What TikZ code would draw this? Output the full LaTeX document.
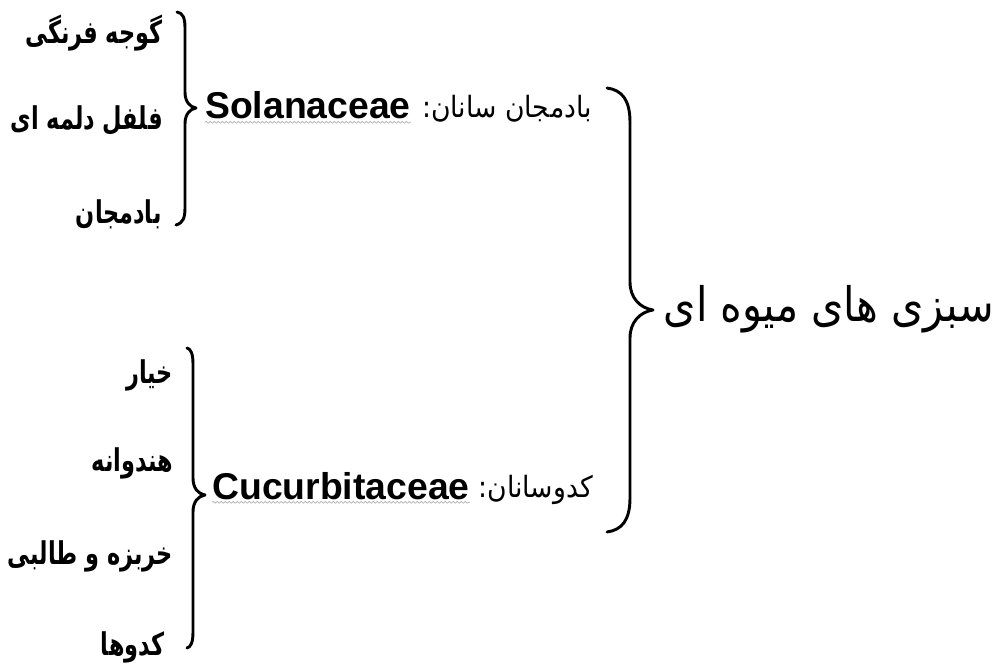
\documentclass[tikz,border=0pt]{standalone}
\usepackage{fontspec}
\setmainfont{Liberation Sans}
\newfontfamily\fa[Script=Arabic]{DejaVu Sans}
\TeXXeTstate=1
\usetikzlibrary{decorations.pathmorphing}
\begin{document}
\begin{tikzpicture}[x=0.75pt,y=-0.75pt,
  bracestyle/.style={line width=2.2pt, line cap=round, line join=round},
  item/.style={anchor=base east, inner sep=0pt, font=\fa\bfseries\fontsize{16.8}{20}\selectfont},
  lat/.style={anchor=base west, inner sep=0pt, font=\bfseries\fontsize{28}{32}\selectfont},
  fam/.style={anchor=base east, inner sep=0pt, font=\fa\fontsize{20}{24}\selectfont},
  titlestyle/.style={anchor=base east, inner sep=0pt, font=\fa\fontsize{31}{36}\selectfont},
  wavy/.style={draw=gray!60, line width=0.5pt, decorate, decoration={snake, segment length=3pt, amplitude=0.7pt}}
]
\useasboundingbox (0,0) rectangle (1000,666);

% title
\node[titlestyle] (title) at (994,322) {\scalebox{1}[1.15]{\beginR سبزی های میوه ای\endR}};

% families
\node[lat] (sol) at (205,119) {Solanaceae};
\node[fam] (solfa) at (592,118) {\scalebox{1}[1.1]{\beginR بادمجان سانان:\endR}};
\node[lat] (cuc) at (212,499) {Cucurbitaceae};
\node[fam] (cucfa) at (593,498) {\scalebox{1}[1.1]{\beginR کدوسانان:\endR}};
\draw[wavy] ([yshift=-2.5pt]sol.base west) -- ([yshift=-2.5pt]sol.base east);
\draw[wavy] ([yshift=-2.5pt]cuc.base west) -- ([yshift=-2.5pt]cuc.base east);

% items
\node[item] (i1) at (163,44) {\scalebox{1}[1.4]{\beginR گوجه فرنگی\endR}};
\node[item] (i2) at (163,130) {\scalebox{1}[1.4]{\beginR فلفل دلمه ای\endR}};
\node[item] (i3) at (162,224) {\scalebox{1}[1.4]{\beginR بادمجان\endR}};
\node[item] (i4) at (173,384) {\scalebox{1}[1.4]{\beginR خیار\endR}};
\node[item] (i5) at (173,472) {\scalebox{1}[1.4]{\beginR هندوانه\endR}};
\node[item] (i6) at (173,564) {\scalebox{1}[1.4]{\beginR خربزه و طالبی\endR}};
\node[item] (i7) at (165,655) {\scalebox{1}[1.4]{\beginR کدوها\endR}};

% big brace
\draw[bracestyle] (607,88) .. controls (622,90) and (630,100) .. (630,122)
  -- (630,282) .. controls (630,298) and (640,308) .. (653,310)
  .. controls (640,312) and (630,322) .. (630,338)
  -- (630,498) .. controls (630,520) and (622,530) .. (607,532);

% top-left brace
\draw[bracestyle] (177,12) .. controls (183,13) and (185,18) .. (185,28)
  -- (185,92) .. controls (185,102) and (190,107) .. (196,108)
  .. controls (190,109) and (185,114) .. (185,124)
  -- (185,208) .. controls (185,218) and (183,223) .. (176,225);

% bottom-left brace
\draw[bracestyle] (187,348) .. controls (191,349) and (193,354) .. (193,364)
  -- (193,478) .. controls (193,488) and (198,494) .. (205,495)
  .. controls (198,496) and (193,502) .. (193,512)
  -- (193,632) .. controls (193,642) and (191,647) .. (187,648);
\end{tikzpicture}
\end{document}
